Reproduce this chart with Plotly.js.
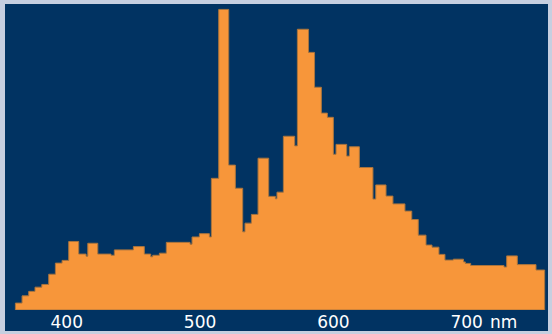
<!DOCTYPE html>
<html>
<head>
<meta charset="utf-8">
<script src="https://cdn.plot.ly/plotly-3.0.1.min.js"></script>
<style>
  html, body { margin: 0; padding: 0; background: #c6cfe0; width: 552px; height: 334px; overflow: hidden; }
  #chart { position: absolute; left: 5px; top: 4px; width: 543px; height: 327px; }
</style>
</head>
<body>
<div id="chart"></div>
<script>
// Bin edges (wavelength, nm) of the stepped spectrum
const edges = [361.5, 366.5, 371.5, 376.2, 381.3, 386.5, 391.5, 396.5, 401.5, 409, 414.5, 415.8, 423.3, 433.2, 435.7, 450, 458.2, 463, 464.5, 469.5, 474.7, 492.5, 494, 499.5, 507, 508.5, 514, 521.5, 526.5, 532, 533.7, 538.5, 543.5, 551.5, 556.5, 557.7, 562.5, 571, 573, 581.4, 585.9, 591, 595.5, 600, 602, 610, 612, 619.5, 629.7, 631.8, 639.5, 644.7, 653.7, 658.8, 663.7, 669.5, 674, 679.2, 683.7, 690, 697.6, 699, 703, 728, 730, 738, 752, 758.5];
// Relative intensity of each bin (peak = 100)
const intensity = [2.3, 4.7, 6.2, 7.6, 8.5, 11.9, 15.6, 16.5, 22.8, 18.6, 17.9, 22.2, 18.6, 18.2, 20.0, 21.1, 18.6, 17.7, 18.2, 18.9, 22.5, 21.9, 24.3, 25.4, 24.3, 43.8, 100, 48.2, 40.5, 26.0, 28.9, 31.8, 50.5, 37.8, 37.0, 39.2, 57.8, 54.6, 93.4, 85.7, 74.1, 65.5, 64.1, 51.8, 55.1, 51.2, 54.3, 47.4, 36.9, 41.6, 37.9, 35.3, 32.9, 30.1, 24.9, 21.6, 20.9, 18.5, 16.6, 16.9, 16.0, 15.5, 14.8, 14.3, 18.0, 15.1, 13.3];
const tickVals = [400, 500, 600, 700];
const tickLabels = ['400', '500', '600', '700'];
const unitLabel = 'nm';

// Build closed stepped outline
const xs = [edges[0]], ys = [0];
for (let i = 0; i < intensity.length; i++) { xs.push(edges[i]); ys.push(intensity[i]); }
xs.push(edges[edges.length - 1]); ys.push(intensity[intensity.length - 1]);
xs.push(edges[edges.length - 1]); ys.push(0);
xs.push(edges[0]); ys.push(0);

const navy = '#013362';
const font = { family: 'DejaVu Sans, sans-serif', size: 17, color: '#ffffff' };

Plotly.newPlot('chart', [{
  type: 'scatter', mode: 'lines', x: xs, y: ys,
  line: { shape: 'hv', color: '#a8743e', width: 1 },
  fill: 'toself', fillcolor: '#f7963a', hoverinfo: 'skip'
}], {
  width: 543, height: 327,
  margin: { l: 0, r: 0, t: 0, b: 21, pad: 0 },
  paper_bgcolor: navy, plot_bgcolor: navy,
  showlegend: false,
  xaxis: {
    range: [353.7, 761.0], tickvals: tickVals, ticktext: tickLabels,
    showgrid: false, zeroline: false, showline: false, ticks: '',
    tickfont: font, automargin: false, fixedrange: true
  },
  yaxis: { range: [0, 101.8], visible: false, fixedrange: true, automargin: false },
  annotations: [{
    text: unitLabel, x: 716, xref: 'x', xanchor: 'left',
    y: -12 / 306, yref: 'paper', yanchor: 'middle',
    showarrow: false, font: font
  }]
}, { staticPlot: true, displayModeBar: false });
</script>
</body>
</html>
